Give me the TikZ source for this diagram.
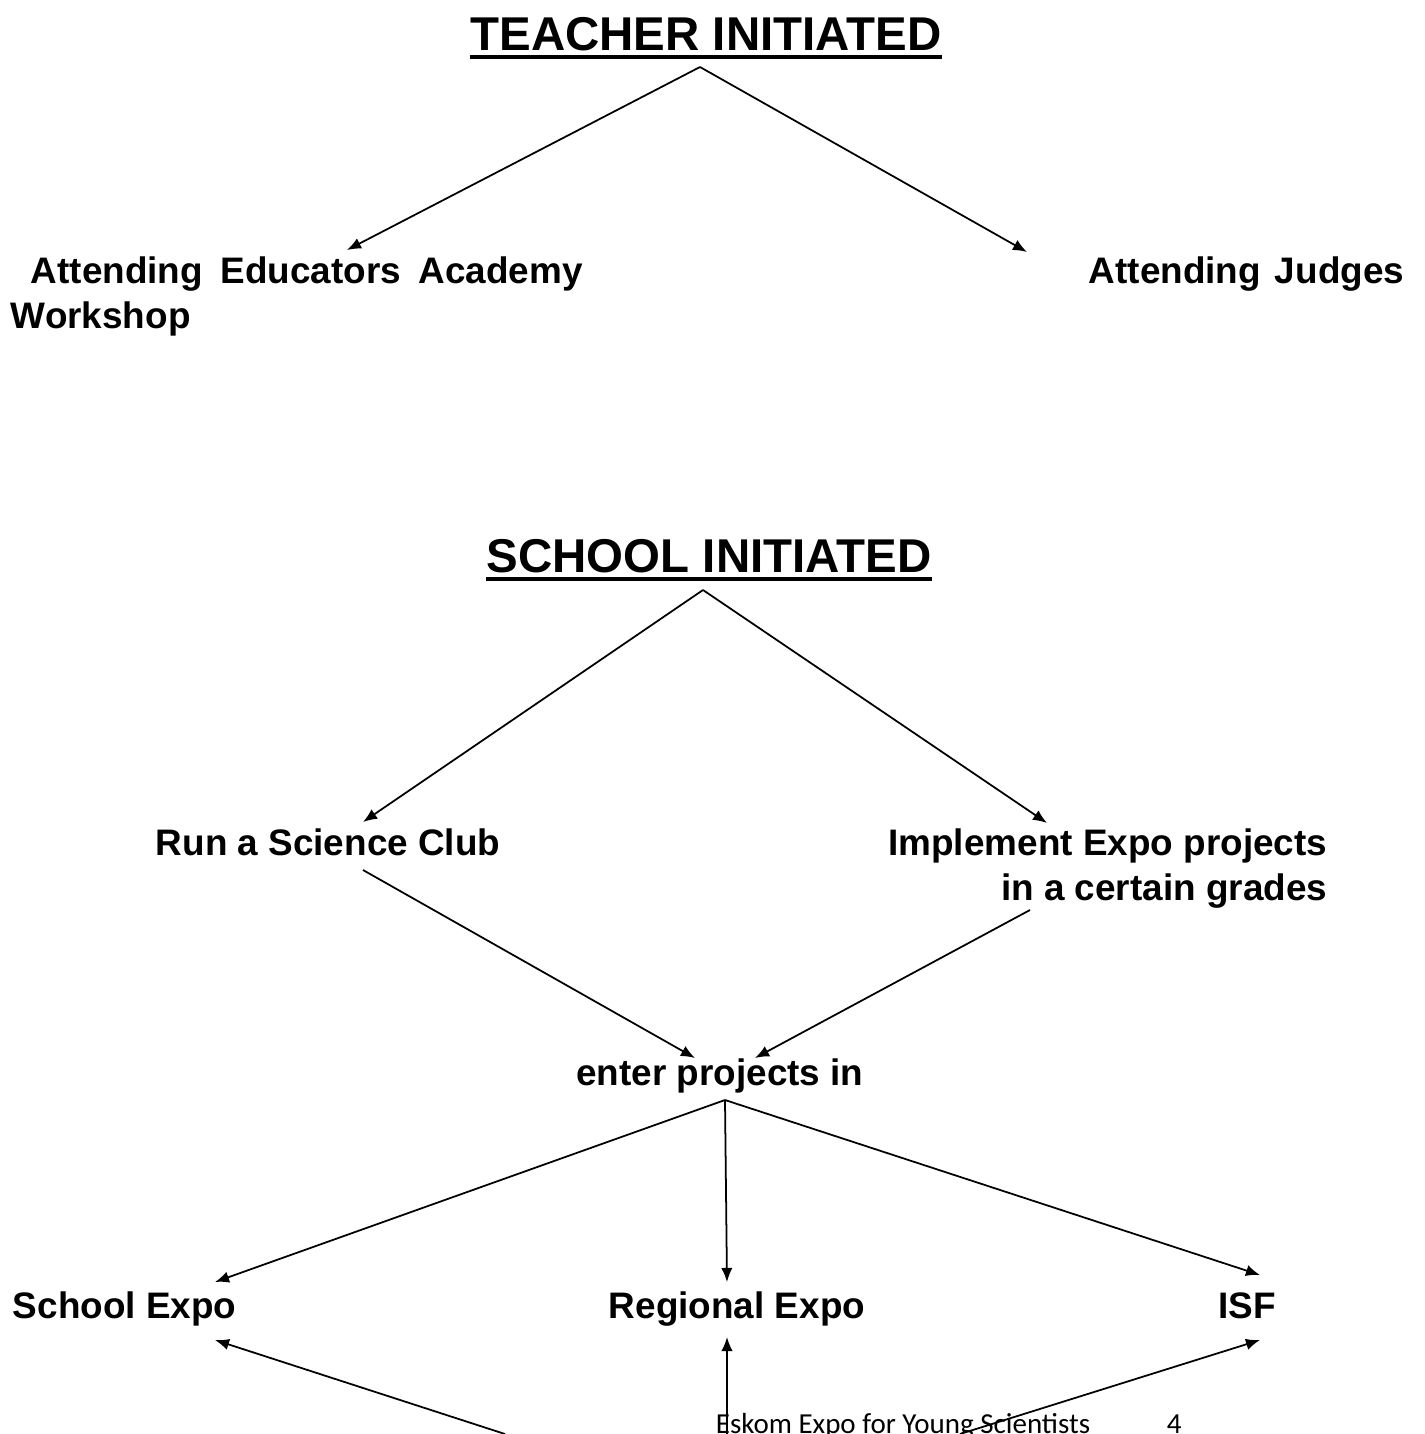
\documentclass[tikz,border=0pt]{standalone}
\usepackage{fontspec}
\setmainfont{Liberation Sans}
\newfontfamily\footfont{Carlito}
\usetikzlibrary{arrows.meta}

\tikzset{
  heading/.style={anchor=base, inner sep=0pt, font=\fontsize{27}{32}\selectfont\bfseries},
  label/.style={inner sep=0pt, font=\fontsize{21}{25.5}\selectfont\bfseries},
  footer/.style={anchor=base west, inner sep=0pt, font=\footfont\fontsize{16.5}{20}\selectfont},
}

\begin{document}
\begin{tikzpicture}[x=0.02cm,y=-0.02cm,>={Latex[length=8pt,width=6.5pt]},line width=1pt]
\useasboundingbox (0,0) rectangle (1425,1434);

% headings
\node[heading] (teacher) at (706,50) {TEACHER INITIATED};
\node[heading] (school) at (709,572) {SCHOOL INITIATED};
\draw[line width=2.4pt] ([yshift=-4pt]teacher.base west)--([yshift=-4pt]teacher.base east);
\draw[line width=2.4pt] ([yshift=-4pt]school.base west)--([yshift=-4pt]school.base east);

% labels
\node[label,anchor=base west] (academy) at (30,283) {Attending\hspace{0.2em} Educators\hspace{0.2em} Academy};
\node[label,anchor=base west] (workshop) at (10,328) {Workshop};
\node[label,anchor=base east] (judges) at (1405,283) {Attending\hspace{0.1em} Judges};

\node[label,anchor=base west] (club) at (155,855) {Run a Science Club};
\node[label,anchor=base east,align=right] (implement) at (1328,900) {Implement Expo projects\\in a certain grades};
\node[label,anchor=base] (enter) at (720,1085) {enter projects in};

\node[label,anchor=base west] (schoolexpo) at (12,1318) {School Expo};
\node[label,anchor=base] (regional) at (737,1318) {Regional Expo};
\node[label,anchor=base east] (isf) at (1277,1318) {ISF};

% footer
\node[footer] (foot) at (715,1433) {Eskom Expo for Young Scientists};
\node[footer] (page) at (1166,1433) {4};

% arrow ends
\coordinate (T_top) at (700,67);
\coordinate (T_l) at (347,250);
\coordinate (T_r) at (1027,252);
\coordinate (S_top) at (703,590);
\coordinate (S_l) at (363,822);
\coordinate (S_r) at (1047,823);
\coordinate (C_st) at (363,870);
\coordinate (I_st) at (1030,910);
\coordinate (E_l) at (695,1058);
\coordinate (E_r) at (755,1058);
\coordinate (E_top) at (725,1100);
\coordinate (X_l) at (215,1282);
\coordinate (X_m) at (727,1282);
\coordinate (X_r) at (1260,1275);
\coordinate (B_l) at (505,1434);
\coordinate (B_m) at (727,1434);
\coordinate (B_r) at (960,1434);
\coordinate (Y_l) at (215,1340);
\coordinate (Y_m) at (727,1337);
\coordinate (Y_r) at (1260,1340);

\draw[->] (T_top)--(T_l);
\draw[->] (T_top)--(T_r);
\draw[->] (S_top)--(S_l);
\draw[->] (S_top)--(S_r);
\draw[->] (C_st)--(E_l);
\draw[->] (I_st)--(E_r);
\draw[->] (E_top)--(X_l);
\draw[->] (E_top)--(X_m);
\draw[->] (E_top)--(X_r);
\draw[->] (B_l)--(Y_l);
\draw[->] (B_m)--(Y_m);
\draw[->] (B_r)--(Y_r);
\end{tikzpicture}
\end{document}
